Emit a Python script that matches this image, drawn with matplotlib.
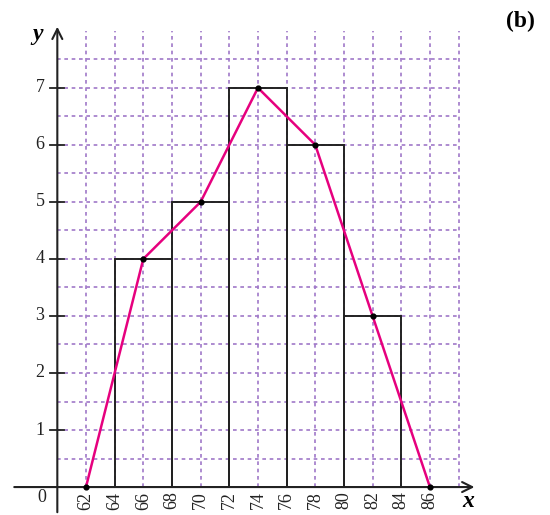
import matplotlib
matplotlib.use('Agg')

import matplotlib.pyplot as plt

# Histogram classes and frequencies
bin_edges = [64, 68, 72, 76, 80, 84]
frequencies = [4, 5, 7, 6, 3]

# Frequency polygon points (class midpoints, padded with empty classes)
poly_x = [62, 66, 70, 74, 78, 82, 86]
poly_y = [0, 4, 5, 7, 6, 3, 0]

x_ticks = [62, 64, 66, 68, 70, 72, 74, 76, 78, 80, 82, 84, 86]
y_ticks = [1, 2, 3, 4, 5, 6, 7]

serif = 'Liberation Serif'
grid_color = '#9f78c8'

fig = plt.figure(figsize=(5.5, 5.15), dpi=100)
ax = fig.add_axes([0, 0, 1, 1])
ax.set_xlim(56.0, 94.38)
ax.set_ylim(-0.49, 8.54)
ax.axis('off')

# Dotted grid
for gx in range(62, 89, 2):
    ax.plot([gx, gx], [0, 8.0], color=grid_color, lw=1.2, ls=(0, (2.2, 2.2)), zorder=1)
for i in range(1, 16):
    gy = i * 0.5
    ax.plot([60, 88], [gy, gy], color=grid_color, lw=1.2, ls=(0, (2.2, 2.2)), zorder=1)

# Histogram bars (outline only, grid shows through)
widths = [bin_edges[i + 1] - bin_edges[i] for i in range(len(frequencies))]
ax.bar(bin_edges[:-1], frequencies, width=widths, align='edge',
       facecolor='none', edgecolor='#222222', linewidth=1.4, zorder=2)

# Axes with arrows
ax.annotate('', xy=(89.3, 0), xytext=(56.8, 0),
            arrowprops=dict(arrowstyle='->', color='#222222', lw=1.5,
                            mutation_scale=18), zorder=3)
ax.annotate('', xy=(60, 8.12), xytext=(60, -0.49),
            arrowprops=dict(arrowstyle='->', color='#222222', lw=1.5,
                            mutation_scale=18), zorder=3)

# Tick marks on y axis
for t in y_ticks:
    ax.plot([59.5, 60.5], [t, t], color='#222222', lw=1.3, zorder=3)
    ax.text(59.1, t, str(t), ha='right', va='center', fontsize=13,
            family=serif, color='#222222')

# x tick labels, rotated
for t in x_ticks:
    ax.text(t, -0.08, str(t), ha='center', va='top', rotation=90,
            fontsize=13, family=serif, color='#222222')

ax.text(58.9, -0.18, '0', ha='center', va='center', fontsize=13,
        family=serif, color='#222222')

# Frequency polygon
ax.plot(poly_x, poly_y, color='#e6007e', lw=1.8, zorder=4)
ax.scatter(poly_x, poly_y, s=12, color='black', zorder=5)

# Axis names and panel label
ax.text(58.6, 7.93, 'y', ha='center', va='center', fontsize=17,
        family=serif, style='italic', weight='bold')
ax.text(88.7, -0.25, 'x', ha='center', va='center', fontsize=17,
        family=serif, style='italic', weight='bold')
ax.text(92.3, 8.16, '(b)', ha='center', va='center', fontsize=17,
        family=serif, weight='bold')

fig.savefig('out.png', dpi=100)
